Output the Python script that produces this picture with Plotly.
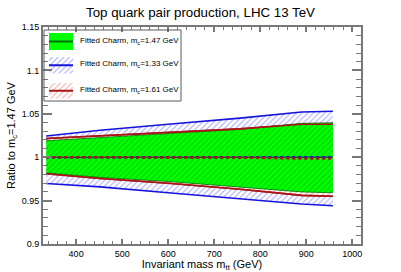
import plotly.graph_objects as go

# ---- data ----
mass = [335, 452, 600, 756, 890, 958]

green_central = [1.0, 1.0, 1.0, 1.0, 1.0, 1.0]
green_up = [1.0190, 1.0227, 1.0270, 1.0320, 1.0390, 1.0397]
green_lo = [0.9820, 0.9767, 0.9720, 0.9660, 0.9600, 0.9590]

blue_central = [1.0, 1.0, 1.0, 1.0, 1.0, 1.0]
blue_up = [1.0245, 1.0310, 1.0380, 1.0450, 1.0520, 1.0530]
blue_lo = [0.9697, 0.9658, 0.9590, 0.9520, 0.9460, 0.9440]

red_central = [1.0, 1.0, 1.0, 0.9995, 0.9985, 0.9985]
red_up = [1.0215, 1.0245, 1.0280, 1.0326, 1.0380, 1.0380]
red_lo = [0.9810, 0.9755, 0.9700, 0.9630, 0.9560, 0.9550]

labels = ["Fitted Charm, m<sub>c</sub>=1.47 GeV",
          "Fitted Charm, m<sub>c</sub>=1.33 GeV",
          "Fitted Charm, m<sub>c</sub>=1.61 GeV"]

# ---- styles ----
GREEN = "rgb(0,255,0)"
DGREEN = "rgb(0,110,0)"
BLUE = "rgb(20,20,220)"
LBLUE = "rgba(60,60,255,0.9)"
RED = "rgb(170,20,20)"
LRED = "rgba(225,70,70,0.9)"
AX = "rgb(120,120,120)"
FONT = "Liberation Sans, Arial, sans-serif"
HATCH = dict(shape="/", size=4, solidity=0.28)

fig = go.Figure()

def band(lo, up, line_color, lw, fillcolor=None, pattern=None):
    fig.add_trace(go.Scatter(x=mass, y=lo, mode="lines",
                             line=dict(color=line_color, width=lw),
                             showlegend=False, hoverinfo="skip"))
    kw = dict(x=mass, y=up, mode="lines", fill="tonexty",
              line=dict(color=line_color, width=lw),
              showlegend=False, hoverinfo="skip")
    if fillcolor:
        kw["fillcolor"] = fillcolor
    if pattern:
        kw["fillpattern"] = pattern
        kw["fillcolor"] = "rgba(0,0,0,0)"
    fig.add_trace(go.Scatter(**kw))

# blue hatched band
band(blue_lo, blue_up, BLUE, 1.6,
     pattern=dict(HATCH, fgcolor=LBLUE, bgcolor="rgba(0,0,0,0)"))
# red hatched band (white background)
band(red_lo, red_up, RED, 1.6,
     pattern=dict(HATCH, fgcolor=LRED, bgcolor="white"))
# green solid band
band(green_lo, green_up, DGREEN, 0.8, fillcolor=GREEN)
# dark hatch over green
band(green_lo, green_up, "rgba(0,0,0,0)", 0,
     pattern=dict(HATCH, fgcolor="rgba(0,80,0,0.6)",
                  bgcolor="rgba(0,0,0,0)"))
# redraw red edges on top
fig.add_trace(go.Scatter(x=mass, y=red_up, mode="lines",
                         line=dict(color=RED, width=1.6), showlegend=False))
fig.add_trace(go.Scatter(x=mass, y=red_lo, mode="lines",
                         line=dict(color=RED, width=1.6), showlegend=False))

# central values
fig.add_trace(go.Scatter(x=mass, y=green_central, mode="lines",
                         line=dict(color=DGREEN, width=1.5), showlegend=False))
fig.add_trace(go.Scatter(x=mass, y=blue_central, mode="lines",
                         line=dict(color=BLUE, width=2.5, dash="dot"),
                         showlegend=False))
fig.add_trace(go.Scatter(x=mass, y=red_central, mode="lines",
                         line=dict(color=RED, width=2.5, dash="dot"),
                         showlegend=False))

# ---- legend drawn in an overlay pixel frame (plot area 318 x 217 px) ----
PW, PH = 318, 217
legend_rows = [
    dict(y0=6, y1=23, fill=GREEN, pattern=None, line=DGREEN, ty=13.7),
    dict(y0=30, y1=46.5, fill="rgba(0,0,0,0)",
         pattern=dict(HATCH, fgcolor=LBLUE, bgcolor="rgba(0,0,0,0)"),
         line=BLUE, ty=37.3),
    dict(y0=56, y1=71.5, fill="rgba(0,0,0,0)",
         pattern=dict(HATCH, fgcolor=LRED, bgcolor="rgba(0,0,0,0)"),
         line=RED, ty=63),
]
px0, px1 = 6, 30
for row, lab in zip(legend_rows, labels):
    kw = dict(x=[px0, px1, px1, px0, px0],
              y=[row["y0"], row["y0"], row["y1"], row["y1"], row["y0"]],
              mode="lines", fill="toself", line=dict(width=0),
              fillcolor=row["fill"], xaxis="x2", yaxis="y2",
              showlegend=False, hoverinfo="skip")
    if row["pattern"]:
        kw["fillpattern"] = row["pattern"]
    fig.add_trace(go.Scatter(**kw))
    ym = (row["y0"] + row["y1"]) / 2
    fig.add_trace(go.Scatter(x=[px0, px1], y=[ym, ym], mode="lines",
                             line=dict(color=row["line"], width=2),
                             xaxis="x2", yaxis="y2", showlegend=False,
                             hoverinfo="skip"))
    fig.add_annotation(x=35, y=row["ty"], xref="x2", yref="y2", text=lab,
                       showarrow=False, xanchor="left", yanchor="middle",
                       font=dict(size=8, color="black", family=FONT))

fig.add_shape(type="rect", xref="x2", yref="y2", x0=1, x1=138, y0=3, y1=74,
              line=dict(color="rgb(90,90,90)", width=1),
              fillcolor="rgba(0,0,0,0)")

fig.update_layout(
    width=401, height=272,
    margin=dict(l=43, r=40, t=27, b=28, autoexpand=False),
    paper_bgcolor="white", plot_bgcolor="white",
    font=dict(family=FONT, color="black"),
    title=dict(text="Top quark pair production, LHC 13 TeV",
               xref="container", x=0.5, xanchor="center",
               yref="container", y=0.955, yanchor="middle",
               font=dict(size=13.3, family=FONT)),
    showlegend=False,
    xaxis=dict(range=[328, 1019], showgrid=False, zeroline=False,
               automargin=False,
               showline=True, linecolor=AX, linewidth=2, mirror="ticks",
               ticks="inside", ticklen=5, tickwidth=1.5, tickcolor=AX,
               tick0=400, dtick=100,
               minor=dict(ticks="inside", ticklen=3, dtick=20,
                          tickcolor=AX, tickwidth=1.2),
               tickfont=dict(size=9, family=FONT),
               title=dict(text="Invariant mass m<sub>tt</sub> (GeV)",
                          font=dict(size=11, family=FONT), standoff=2)),
    yaxis=dict(range=[0.9, 1.15], showgrid=False, zeroline=False,
               automargin=False,
               showline=True, linecolor=AX, linewidth=2, mirror="ticks",
               ticks="inside", ticklen=9, tickwidth=1.5, tickcolor=AX,
               tick0=0.9, dtick=0.05,
               minor=dict(ticks="inside", ticklen=5, dtick=0.01,
                          tickcolor=AX, tickwidth=1.2),
               tickfont=dict(size=9, family=FONT),
               title=dict(text="Ratio to m<sub>c</sub>=1.47 GeV",
                          font=dict(size=11, family=FONT), standoff=4)),
    xaxis2=dict(overlaying="x", range=[0, PW], visible=False,
                fixedrange=True, automargin=False),
    yaxis2=dict(overlaying="y", range=[PH, 0], visible=False,
                fixedrange=True, automargin=False),
)

fig.write_html("out.html", config={"displayModeBar": False},
               post_script="document.body.style.margin='0';")
